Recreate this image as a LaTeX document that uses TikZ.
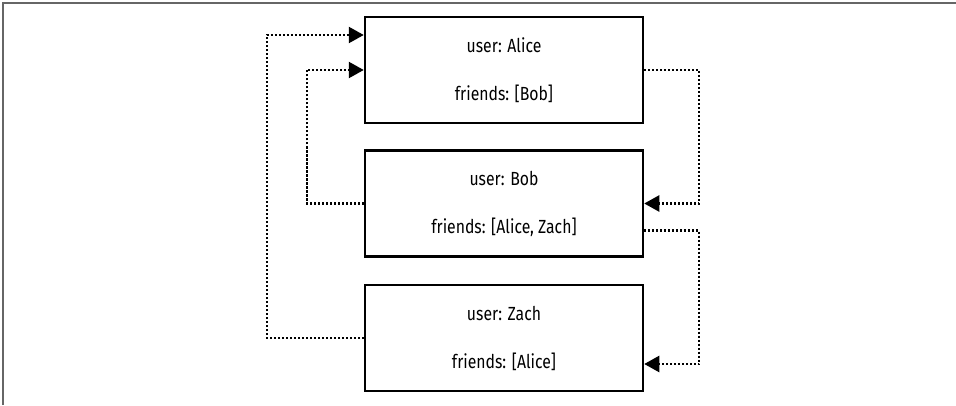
\documentclass[tikz,border=0pt]{standalone}
\usepackage{fontspec}
\setmainfont{Fira Sans}[FakeStretch=0.83]
\usetikzlibrary{arrows.meta}

\begin{document}
\begin{tikzpicture}[x=1pt,y=1pt,
		user/.style={draw, line width=2.5pt, minimum width=278pt, minimum height=106pt,
			inner sep=0pt, align=center, font=\fontsize{19}{48}\selectfont},
		link/.style={line width=2.4pt, dash pattern=on 2.2pt off 1.8pt,
			-{Triangle[length=15pt,width=16pt]}}]
		\useasboundingbox (0,0) rectangle (956,405);

		% Rahmen
		\draw[gray!80!black, line width=1.5pt] (3,0) -- (3,402) -- (956,402);

		% Knoten
		\node[user] (alice) at (504,335) {user: Alice\\friends: [Bob]};
		\node[user] (bob) at (504,201.5) {user: Bob\\friends: [Alice, Zach]};
		\node[user] (zach) at (504,67) {user: Zach\\friends: [Alice]};

		% Pfeile
		\draw[link] (alice.east) -- ++(55,0) |- (bob.east);
		\draw[link] ([yshift=-27pt]bob.east) -- ++(55,0) |- ([yshift=-26pt]zach.east);
		\draw[link] (bob.west) -- ++(-57,0) |- (alice.west);
		\draw[link] (zach.west) -- ++(-97,0) |- ([yshift=35pt]alice.west);
	\end{tikzpicture}
\end{document}
